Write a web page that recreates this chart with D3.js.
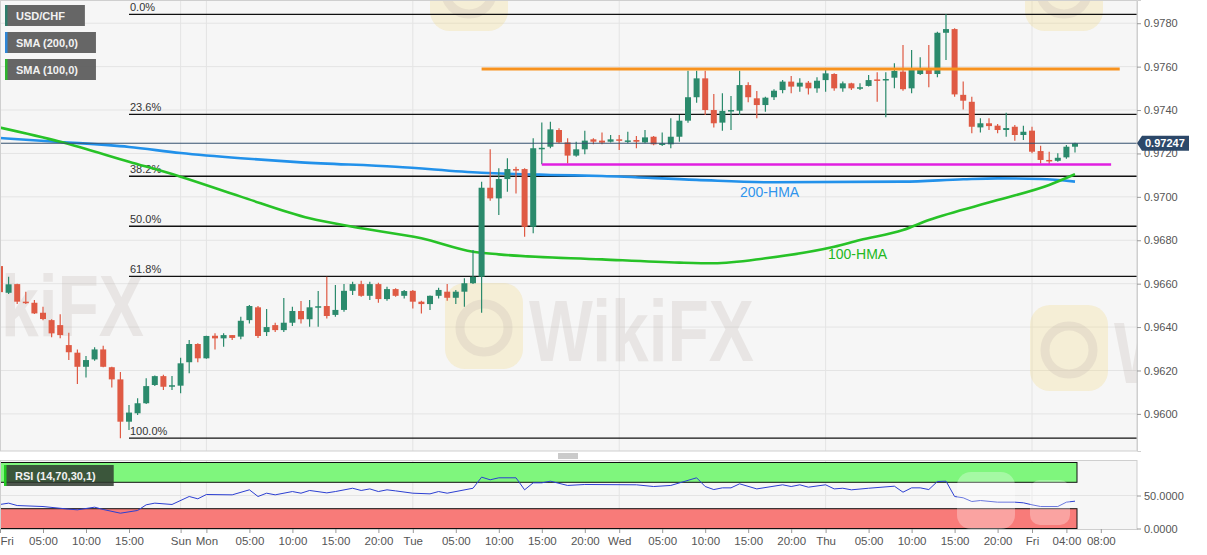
<!DOCTYPE html>
<html>
<head>
<meta charset="utf-8">
<script src="https://cdn.jsdelivr.net/npm/d3@7"></script>
<style>
  body { margin: 0; background: #fff; }
  svg { display: block; font-family: "Liberation Sans", Arial, sans-serif; }
</style>
</head>
<body>
<div id="chart"></div>
<script>
// ---- data (hourly slots, weekend removed: slot 0 = Fri 00:00) ----
var candleOpen = [
  0.96681,0.96558,0.96598,0.96517,0.96512,0.96466,0.96432,0.96409,0.96317,0.96282,
  0.96217,0.96251,0.96297,0.96215,0.96159,0.95964,0.96003,0.96049,0.96133,0.96174,
  0.96130,0.96130,0.96238,0.96322,0.96256,0.96360,0.96348,0.96363,0.96356,0.96432,
  0.96491,0.96377,0.96409,0.96386,0.96420,0.96474,0.96436,0.96494,0.96497,0.96456,
  0.96479,0.96567,0.96598,0.96544,0.96598,0.96529,0.96575,0.96544,0.96567,0.96517,
  0.96506,0.96544,0.96563,0.96535,0.96563,0.96602,0.96632,0.97042,0.96993,0.97082,
  0.97128,0.97128,0.96862,0.97224,0.97231,0.97308,0.97251,0.97190,0.97219,0.97265,
  0.97259,0.97254,0.97265,0.97259,0.97262,0.97251,0.97277,0.97239,0.97242,0.97277,
  0.97351,0.97459,0.97546,0.97400,0.97342,0.97396,0.97397,0.97515,0.97454,0.97423,
  0.97459,0.97492,0.97531,0.97508,0.97526,0.97500,0.97538,0.97566,0.97500,0.97523,
  0.97503,0.97511,0.97541,0.97538,0.97549,0.97577,0.97500,0.97566,0.97588,0.97566,
  0.97756,0.97773,0.97470,0.97438,0.97320,0.97339,0.97328,0.97308,0.97323,0.97285,
  0.97305,0.97211,0.97170,0.97166,0.97182,0.97231];
var candleHigh = [
  0.96700,0.96632,0.96600,0.96563,0.96525,0.96494,0.96436,0.96459,0.96374,0.96297,
  0.96267,0.96307,0.96314,0.96217,0.96193,0.96041,0.96072,0.96164,0.96177,0.96180,
  0.96174,0.96259,0.96340,0.96325,0.96360,0.96371,0.96371,0.96364,0.96448,0.96502,
  0.96497,0.96483,0.96420,0.96534,0.96494,0.96520,0.96525,0.96566,0.96632,0.96594,
  0.96598,0.96609,0.96614,0.96609,0.96604,0.96586,0.96579,0.96571,0.96571,0.96521,
  0.96545,0.96581,0.96598,0.96571,0.96625,0.96755,0.97070,0.97219,0.97132,0.97178,
  0.97139,0.97132,0.97270,0.97343,0.97346,0.97316,0.97270,0.97254,0.97305,0.97270,
  0.97296,0.97285,0.97285,0.97300,0.97280,0.97308,0.97280,0.97297,0.97362,0.97377,
  0.97581,0.97581,0.97581,0.97474,0.97477,0.97465,0.97581,0.97528,0.97488,0.97461,
  0.97496,0.97538,0.97557,0.97546,0.97534,0.97551,0.97584,0.97569,0.97531,0.97526,
  0.97523,0.97561,0.97574,0.97574,0.97615,0.97700,0.97677,0.97643,0.97700,0.97761,
  0.97841,0.97777,0.97531,0.97461,0.97362,0.97362,0.97336,0.97388,0.97331,0.97328,
  0.97323,0.97236,0.97208,0.97201,0.97239,0.97249];
var candleLow = [
  0.96548,0.96552,0.96506,0.96506,0.96460,0.96432,0.96353,0.96348,0.96248,0.96138,
  0.96168,0.96245,0.96215,0.96122,0.95888,0.95926,0.95995,0.96045,0.96128,0.96110,
  0.96110,0.96095,0.96187,0.96238,0.96254,0.96297,0.96309,0.96340,0.96344,0.96417,
  0.96350,0.96359,0.96377,0.96377,0.96405,0.96417,0.96402,0.96402,0.96440,0.96448,
  0.96471,0.96548,0.96540,0.96525,0.96512,0.96521,0.96540,0.96532,0.96486,0.96463,
  0.96479,0.96532,0.96521,0.96506,0.96494,0.96598,0.96466,0.96982,0.96916,0.97024,
  0.97016,0.96816,0.96832,0.97150,0.97224,0.97247,0.97154,0.97185,0.97196,0.97242,
  0.97242,0.97250,0.97216,0.97247,0.97224,0.97247,0.97238,0.97234,0.97224,0.97254,
  0.97342,0.97434,0.97377,0.97320,0.97305,0.97308,0.97377,0.97436,0.97362,0.97392,
  0.97446,0.97477,0.97477,0.97484,0.97472,0.97480,0.97484,0.97489,0.97484,0.97492,
  0.97492,0.97508,0.97438,0.97367,0.97500,0.97489,0.97477,0.97561,0.97505,0.97551,
  0.97631,0.97461,0.97403,0.97293,0.97297,0.97308,0.97293,0.97277,0.97259,0.97262,
  0.97201,0.97154,0.97151,0.97162,0.97175,0.97204];
var candleClose = [
  0.96561,0.96597,0.96517,0.96512,0.96463,0.96437,0.96371,0.96363,0.96284,0.96217,
  0.96248,0.96297,0.96217,0.96159,0.95964,0.96006,0.96049,0.96128,0.96174,0.96125,
  0.96132,0.96233,0.96322,0.96256,0.96359,0.96348,0.96363,0.96350,0.96429,0.96497,
  0.96359,0.96400,0.96386,0.96420,0.96474,0.96436,0.96491,0.96496,0.96451,0.96479,
  0.96567,0.96598,0.96544,0.96598,0.96529,0.96575,0.96544,0.96566,0.96517,0.96506,
  0.96544,0.96571,0.96535,0.96563,0.96602,0.96632,0.97042,0.96993,0.97082,0.97128,
  0.97124,0.96862,0.97224,0.97226,0.97311,0.97251,0.97190,0.97219,0.97259,0.97254,
  0.97250,0.97265,0.97259,0.97260,0.97254,0.97274,0.97242,0.97247,0.97277,0.97351,
  0.97459,0.97546,0.97400,0.97339,0.97396,0.97400,0.97515,0.97459,0.97423,0.97457,
  0.97489,0.97531,0.97508,0.97526,0.97500,0.97535,0.97569,0.97500,0.97523,0.97500,
  0.97505,0.97538,0.97538,0.97543,0.97580,0.97496,0.97588,0.97588,0.97566,0.97756,
  0.97773,0.97472,0.97443,0.97323,0.97339,0.97326,0.97308,0.97317,0.97285,0.97300,
  0.97208,0.97170,0.97166,0.97180,0.97231,0.97247];

// moving averages (read at a handful of slots)
var sma200Slots  = [0,7,15,21,28,35,46,56,64,70,81,90,105,112,116,121,125];
var sma200Values = [0.97271,0.97253,0.97230,0.97202,0.97178,0.97159,0.97139,0.97111,0.97101,
                    0.97096,0.97078,0.97067,0.97070,0.97081,0.97085,0.97082,0.97070];
var sma100Slots  = [0,7,15,21,28,36,41,49,55,58,70,79,83,89,97,100,105,108,116,122,125];
var sma100Values = [0.97319,0.97254,0.97162,0.97093,0.97001,0.96901,0.96862,0.96809,0.96747,
                    0.96735,0.96712,0.96697,0.96694,0.96717,0.96770,0.96801,0.96847,0.96893,
                    0.96985,0.97055,0.97104];

// RSI (14)
var rsiSlots  = [0,1,2,5,8,9,11,12,14,16,17,18,20,22,23,24,27,29,30,31,32,34,35,36,38,39,41,42,43,44,
                 45,46,48,50,51,52,55,56,57,58,60,61,62,63,64,66,68,74,76,78,81,82,83,84,85,86,88,91,
                 92,93,94,96,97,98,99,101,104,105,106,107,108,109,110,111,112,113,114,116,118,119,120,
                 121,123,124,125];
var rsiValues = [36.4,38.4,34.8,33.3,29.3,28.3,32.3,28.8,23.2,27.3,35.9,38.4,36.4,48.5,45,51.5,51,58.6,
                 48.5,53.5,51,56,53.5,57.6,54,56,61,57.6,60,56,58.6,57,53.5,52.5,56,53.5,61,77.8,73.8,
                 76.8,76.8,58.6,69.2,69.2,71.7,65.2,66.7,66.2,63.6,65.2,76.8,63.6,59,61.6,61.6,67.7,60,
                 66.2,63.6,66.2,62.6,66.2,60,61,58.6,61,64.1,55,61.6,61.6,59,71.2,71.7,48.5,46.5,40.9,
                 42.4,39.9,39.9,38.9,35.9,33.3,33.3,39.9,41.4];

// fibonacci retracement between swing high and swing low
var fibHigh = 0.97841, fibLow = 0.95888, fibStartSlot = 15;
var fibLevels = [0, 23.6, 38.2, 50, 61.8, 100];

// drawn levels
var resistanceLevel = 0.97589, resistanceSlots = [56, 130.2];
var supportLevel = 0.97149, supportSlots = [63, 129.2];
var lastPrice = 0.97247;

// axes
var priceTicks = [0.9600,0.9620,0.9640,0.9660,0.9680,0.9700,0.9720,0.9740,0.9760,0.9780];
var rsiTicks = [0, 50];
var timeSlots  = [0,5,10,15,21,24,29,34,39,44,48,53,58,63,68,72,77,82,87,92,96,101,106,111,116,120,124,128];
var timeLabels = ["Fri","05:00","10:00","15:00","Sun","Mon","05:00","10:00","15:00","20:00","Tue",
                  "05:00","10:00","15:00","20:00","Wed","05:00","10:00","15:00","20:00","Thu",
                  "05:00","10:00","15:00","20:00","Fri","04:00","08:00"];
var daySlots = [21,24,48,72,96,120];

// ---- layout ----
var width = 1207, height = 555;
var plotRight = 1137, mainBottom = 451, rsiTop = 460, rsiBottom = 529;
var bull = "#2b8a6c", bear = "#df5a44";
var font = "'Liberation Sans', Arial, sans-serif";

var svg = d3.select("#chart").append("svg")
    .attr("width", width).attr("height", height);
svg.append("rect").attr("width", width).attr("height", height).attr("fill", "#fff");

var x = d3.scaleLinear().domain([0, 132]).range([0, 1135.2]);
var y = d3.scaleLinear().domain([0.95829, 0.97907]).range([mainBottom, 0]);
var yR = d3.scaleLinear().domain([0, 100]).range([528.5, 462.5]);

svg.append("clipPath").attr("id", "plotClip")
    .append("rect").attr("x", 0).attr("y", 0).attr("width", plotRight).attr("height", mainBottom);

// panel backgrounds
svg.append("rect").attr("x", 0).attr("y", 0).attr("width", plotRight).attr("height", mainBottom)
    .attr("fill", "#f6f6f6");
svg.append("rect").attr("x", 0).attr("y", rsiTop).attr("width", plotRight).attr("height", rsiBottom - rsiTop)
    .attr("fill", "#f6f6f6");

// grid
svg.append("g").selectAll("line").data(priceTicks).enter().append("line")
    .attr("x1", 0).attr("x2", plotRight)
    .attr("y1", function(d){ return y(d); }).attr("y2", function(d){ return y(d); })
    .attr("stroke", "#e4e4e4");
svg.append("g").selectAll("line").data(daySlots).enter().append("line")
    .attr("x1", function(d){ return x(d); }).attr("x2", function(d){ return x(d); })
    .attr("y1", 0).attr("y2", mainBottom)
    .attr("stroke", "#e4e4e4");
svg.append("g").selectAll("line").data(daySlots).enter().append("line")
    .attr("x1", function(d){ return x(d); }).attr("x2", function(d){ return x(d); })
    .attr("y1", rsiTop).attr("y2", rsiBottom)
    .attr("stroke", "#e4e4e4");
svg.append("line").attr("x1", 0).attr("x2", plotRight).attr("y1", yR(50)).attr("y2", yR(50))
    .attr("stroke", "#e4e4e4");

// watermarks (kept inside the price panel)
function watermark(g, lx, ly, withText) {
    var w = g.append("g").attr("transform", "translate(" + lx + "," + ly + ")");
    w.append("rect").attr("x", 0).attr("y", 0).attr("width", 78).attr("height", 86).attr("rx", 20)
        .attr("fill", "#f1d98a").attr("opacity", 0.3);
    w.append("circle").attr("cx", 39).attr("cy", 45).attr("r", 24)
        .attr("fill", "none").attr("stroke", "#b9aea8").attr("stroke-width", 9).attr("opacity", 0.22);
    if (withText) {
        w.append("text").attr("x", 84).attr("y", 78).text("WikiFX")
            .attr("font-size", 88).attr("font-weight", "bold").attr("font-family", font)
            .attr("textLength", 225).attr("lengthAdjust", "spacingAndGlyphs")
            .attr("fill", "#b8aca6").attr("opacity", 0.22);
    }
}
var wm = svg.append("g").attr("clip-path", "url(#plotClip)");
watermark(wm, 445, 283, true);
watermark(wm, -165, 258, true);
watermark(wm, 1030, 305, true);
watermark(wm, 430, -55, false);
watermark(wm, 1025, -55, false);

// fibonacci lines
var fib = svg.append("g");
fibLevels.forEach(function(lv) {
    var p = fibHigh - (fibHigh - fibLow) * lv / 100;
    fib.append("line").attr("x1", x(fibStartSlot)).attr("x2", plotRight)
        .attr("y1", y(p)).attr("y2", y(p)).attr("stroke", "#111").attr("stroke-width", 1.3);
    fib.append("text").attr("x", x(fibStartSlot) + 1).attr("y", y(p) - 3)
        .attr("font-size", 11).attr("fill", "#333").attr("font-family", font)
        .text(d3.format(".1f")(lv) + "%");
});

// moving averages
function maLine(slots, vals) {
    return d3.line().curve(d3.curveMonotoneX)
        .x(function(d, i){ return x(slots[i]); })
        .y(function(d){ return y(d); })(vals);
}
svg.append("path").attr("d", maLine(sma200Slots, sma200Values))
    .attr("fill", "none").attr("stroke", "#2291ea").attr("stroke-width", 2.6);
svg.append("path").attr("d", maLine(sma100Slots, sma100Values))
    .attr("fill", "none").attr("stroke", "#27c227").attr("stroke-width", 2.6);

// candles
var candles = candleOpen.map(function(o, i) {
    return {slot: i, o: o, h: candleHigh[i], l: candleLow[i], c: candleClose[i]};
});
var cg = svg.append("g").selectAll("g").data(candles).enter().append("g");
cg.append("line")
    .attr("x1", function(d){ return x(d.slot); }).attr("x2", function(d){ return x(d.slot); })
    .attr("y1", function(d){ return y(d.h); }).attr("y2", function(d){ return y(d.l); })
    .attr("stroke", function(d){ return d.c >= d.o ? bull : bear; }).attr("stroke-width", 1.2);
cg.append("rect")
    .attr("x", function(d){ return x(d.slot) - 3; }).attr("width", 6)
    .attr("y", function(d){ return y(Math.max(d.o, d.c)); })
    .attr("height", function(d){ return Math.max(1.5, Math.abs(y(d.o) - y(d.c))); })
    .attr("fill", function(d){ return d.c >= d.o ? bull : bear; });

// drawn support / resistance
svg.append("line").attr("x1", x(resistanceSlots[0])).attr("x2", x(resistanceSlots[1]))
    .attr("y1", y(resistanceLevel)).attr("y2", y(resistanceLevel))
    .attr("stroke", "#f7921e").attr("stroke-width", 3);
svg.append("line").attr("x1", x(supportSlots[0])).attr("x2", x(supportSlots[1]))
    .attr("y1", y(supportLevel)).attr("y2", y(supportLevel))
    .attr("stroke", "#e01fe0").attr("stroke-width", 2.4);

// MA labels
svg.append("text").attr("x", 740).attr("y", y(0.97069) + 15).text("200-HMA")
    .attr("font-size", 14).attr("fill", "#2f94ec").attr("font-family", font);
svg.append("text").attr("x", 828).attr("y", 259).text("100-HMA")
    .attr("font-size", 14).attr("fill", "#22b822").attr("font-family", font);

// current price line
svg.append("line").attr("x1", 0).attr("x2", plotRight)
    .attr("y1", y(lastPrice)).attr("y2", y(lastPrice))
    .attr("stroke", "#34506f").attr("stroke-width", 1);

// panel borders
svg.append("rect").attr("x", 0.5).attr("y", 0.5).attr("width", plotRight - 0.5).attr("height", mainBottom - 0.5)
    .attr("fill", "none").attr("stroke", "#cfcfcf");

// separator handle
[454, 456, 458].forEach(function(hy) {
    svg.append("line").attr("x1", 558).attr("x2", 578).attr("y1", hy).attr("y2", hy)
        .attr("stroke", "#8a8a8a").attr("stroke-width", 0.9);
});

// RSI panel
var bandEnd = x(candleClose.length - 1) + 2;
svg.append("rect").attr("x", 0).attr("y", yR(100)).attr("width", bandEnd).attr("height", yR(70) - yR(100))
    .attr("fill", "#7ff67d").attr("stroke", "#111").attr("stroke-width", 1);
svg.append("rect").attr("x", 0).attr("y", yR(30)).attr("width", bandEnd).attr("height", yR(0) - yR(30))
    .attr("fill", "#f87b79").attr("stroke", "#111").attr("stroke-width", 1);
svg.append("path")
    .attr("d", d3.line().x(function(d, i){ return x(rsiSlots[i]); }).y(function(d){ return yR(d); })(rsiValues))
    .attr("fill", "none").attr("stroke", "#2c3fd2").attr("stroke-width", 1);
svg.append("rect").attr("x", 0.5).attr("y", rsiTop + 0.5).attr("width", plotRight - 0.5).attr("height", rsiBottom - rsiTop)
    .attr("fill", "none").attr("stroke", "#cfcfcf");

// RSI watermark (light)
var rw = svg.append("g").attr("opacity", 0.3);
rw.append("rect").attr("x", 957).attr("y", 472).attr("width", 58).attr("height", 57).attr("rx", 14).attr("fill", "#fff");
rw.append("rect").attr("x", 1030).attr("y", 480).attr("width", 40).attr("height", 45).attr("rx", 10).attr("fill", "#fff");

// right axes
function styleAxis(g) {
    g.select(".domain").attr("stroke", "#cfcfcf");
    g.selectAll(".tick line").attr("stroke", "#999");
    g.selectAll(".tick text").attr("fill", "#555").attr("font-size", 11).attr("font-family", font);
}
svg.append("g").attr("transform", "translate(" + plotRight + ",0)")
    .call(d3.axisRight(y).tickValues(priceTicks).tickFormat(d3.format(".4f")).tickSize(4).tickPadding(3))
    .call(styleAxis);
svg.append("g").attr("transform", "translate(" + plotRight + ",0)")
    .call(d3.axisRight(yR).tickValues(rsiTicks).tickFormat(d3.format(".4f")).tickSize(4).tickPadding(3))
    .call(styleAxis)
    .select(".domain").remove();

// bottom time axis
var xa = svg.append("g").attr("transform", "translate(0," + rsiBottom + ")")
    .call(d3.axisBottom(x).tickValues(timeSlots)
        .tickFormat(function(d, i){ return timeLabels[i]; }).tickSize(4).tickPadding(4))
    .call(styleAxis);
xa.select(".domain").remove();
xa.selectAll(".tick text").attr("font-size", 11.5)
    .attr("text-anchor", function(d, i){ return i === 0 ? "start" : "middle"; });

// last price tag
var yc = y(lastPrice);
svg.append("path")
    .attr("d", "M" + plotRight + "," + yc + "L" + (plotRight + 5) + "," + (yc - 7.5) + "H1189V" + (yc + 7.5) + "H" + (plotRight + 5) + "Z")
    .attr("fill", "#2c4869");
svg.append("text").attr("x", plotRight + 8).attr("y", yc + 4).text(d3.format(".5f")(lastPrice))
    .attr("fill", "#fff").attr("font-weight", "bold").attr("font-size", 11).attr("font-family", font);

// legends
function legendBox(lx, ly, label, accent, pad) {
    var g = svg.append("g");
    var bg = g.append("rect").attr("x", lx).attr("y", ly).attr("height", 21).attr("fill", "#5e5e5e").attr("opacity", 0.95);
    g.append("rect").attr("x", lx).attr("y", ly).attr("width", 2.5).attr("height", 21).attr("fill", accent);
    var t = g.append("text").attr("x", lx + 11).attr("y", ly + 14.5).text(label)
        .attr("fill", "#f2f2f2").attr("font-weight", "bold").attr("font-size", 11).attr("font-family", font);
    bg.attr("width", t.node().getComputedTextLength() + 11 + pad);
    return bg;
}
legendBox(5, 5, "USD/CHF", "#2e7d6b", 20);
legendBox(5, 32, "SMA (200,0)", "#2f86d6", 18);
legendBox(5, 59, "SMA (100,0)", "#2fb52f", 18);
legendBox(4, 465, "RSI (14,70,30,1)", "#22cc22", 18).attr("fill", "#2f3a2f").attr("opacity", 0.85);
</script>
</body>
</html>
